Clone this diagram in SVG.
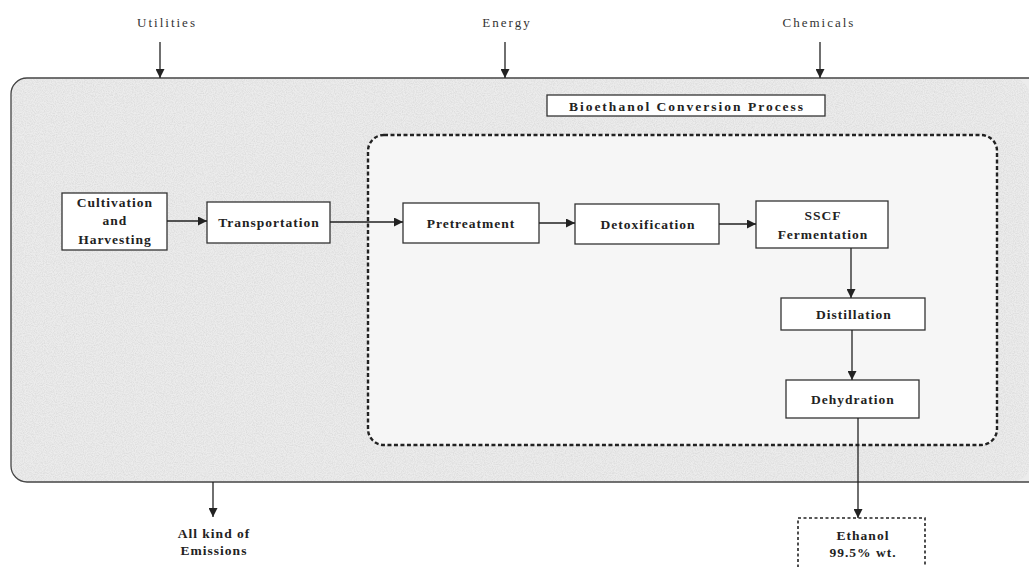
<svg xmlns="http://www.w3.org/2000/svg" width="1029" height="567" viewBox="0 0 1029 567">
<defs>
<marker id="ah" viewBox="0 0 10 10" refX="10" refY="5" markerWidth="9" markerHeight="9" markerUnits="userSpaceOnUse" orient="auto"><path d="M0,0 L10,5 L0,10 z" fill="#222"/></marker>
<filter id="noise" x="0" y="0" width="100%" height="100%"><feTurbulence type="fractalNoise" baseFrequency="0.9" numOctaves="2" seed="3" result="t"/><feColorMatrix in="t" type="matrix" values="0 0 0 0 0.6  0 0 0 0 0.6  0 0 0 0 0.6  0 0 0 -1.6 1.05" result="n"/><feComposite in="n" in2="SourceGraphic" operator="in"/></filter>
</defs>
<style>
.box{fill:#fff;stroke:#333;stroke-width:1.3}
.t{font-family:"Liberation Serif",serif;font-weight:bold;font-size:13.5px;letter-spacing:1px;fill:#222;text-anchor:middle}
.lbl{font-family:"Liberation Serif",serif;font-size:13px;letter-spacing:2px;fill:#333;text-anchor:middle}
.c{stroke:#222;stroke-width:1.3;fill:none;marker-end:url(#ah)}
</style>
<rect width="1029" height="567" fill="#fff"/>
<g id="system">
<rect x="11" y="78" width="1040" height="404" rx="16" fill="#ececec" stroke="#444" stroke-width="1.3"/>
<rect x="12" y="79" width="1017" height="402" rx="15" fill="#fff" filter="url(#noise)" opacity="0.6"/>
</g>
<g id="conversion">
<rect x="368" y="135" width="629" height="310" rx="16" fill="#f6f6f6" stroke="#222" stroke-width="2.4" stroke-dasharray="4,2.5"/>
</g>
<g id="title"><rect class="box" x="547" y="95" width="278" height="21"/><text class="t" x="687" y="111" style="letter-spacing:2px">Bioethanol Conversion Process</text></g>
<g id="utilities"><text class="lbl" x="167" y="27">Utilities</text></g>
<g id="energy"><text class="lbl" x="507" y="27">Energy</text></g>
<g id="chemicals"><text class="lbl" x="819" y="27">Chemicals</text></g>
<g id="cultivation"><rect class="box" x="62" y="193" width="105" height="57"/><text class="t" x="115" y="207">Cultivation</text><text class="t" x="115" y="225">and</text><text class="t" x="115" y="244">Harvesting</text></g>
<g id="transportation"><rect class="box" x="207" y="202" width="123" height="41"/><text class="t" x="269" y="227">Transportation</text></g>
<g id="pretreatment"><rect class="box" x="403" y="203" width="136" height="40"/><text class="t" x="471" y="228">Pretreatment</text></g>
<g id="detoxification"><rect class="box" x="575" y="204" width="144" height="40"/><text class="t" x="648" y="229">Detoxification</text></g>
<g id="sscf"><rect class="box" x="756" y="201" width="132" height="47"/><text class="t" x="823" y="220">SSCF</text><text class="t" x="823" y="239">Fermentation</text></g>
<g id="distillation"><rect class="box" x="781" y="298" width="144" height="32"/><text class="t" x="854" y="319">Distillation</text></g>
<g id="dehydration"><rect class="box" x="786" y="380" width="133" height="38"/><text class="t" x="853" y="404">Dehydration</text></g>
<g id="emissions"><text class="t" x="214" y="538">All kind of</text><text class="t" x="214" y="555">Emissions</text></g>
<g id="ethanol"><rect x="798" y="518" width="127" height="60" fill="#fff" stroke="#222" stroke-width="1.6" stroke-dasharray="3,2.5"/><text class="t" x="863" y="540">Ethanol</text><text class="t" x="863" y="557">99.5% wt.</text></g>
<g id="connectors">
<line class="c" x1="160" y1="42" x2="160" y2="78"/>
<line class="c" x1="505" y1="42" x2="505" y2="78"/>
<line class="c" x1="820" y1="42" x2="820" y2="78"/>
<line class="c" x1="167" y1="221" x2="207" y2="221"/>
<line class="c" x1="330" y1="222" x2="403" y2="222"/>
<line class="c" x1="539" y1="223" x2="575" y2="223"/>
<line class="c" x1="719" y1="224" x2="756" y2="224"/>
<line class="c" x1="851" y1="248" x2="851" y2="298"/>
<line class="c" x1="852" y1="330" x2="852" y2="380"/>
<line class="c" x1="858" y1="418" x2="858" y2="518"/>
<line class="c" x1="213" y1="482" x2="213" y2="517"/>
</g>
</svg>
